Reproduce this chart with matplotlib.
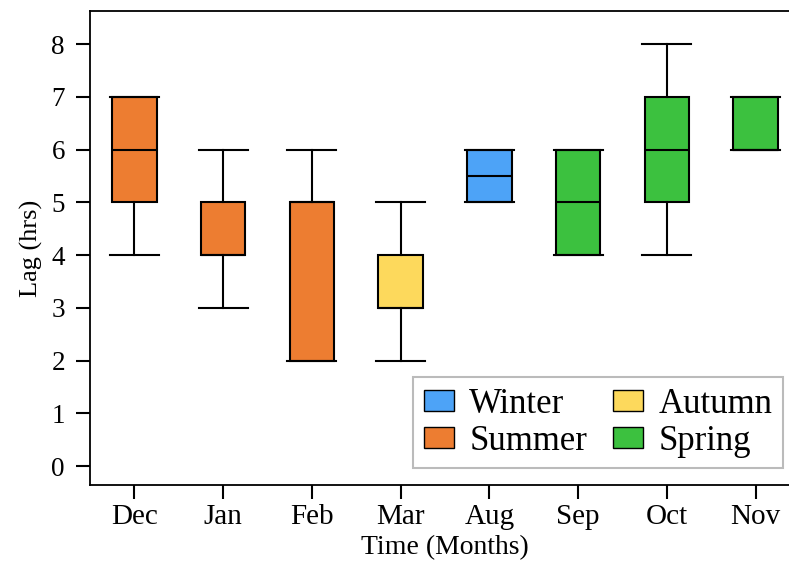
import matplotlib.pyplot as plt
from matplotlib.patches import Patch

plt.rcParams['font.family'] = ['Liberation Serif', 'DejaVu Serif']

# data
months = ['Dec', 'Jan', 'Feb', 'Mar', 'Aug', 'Sep', 'Oct', 'Nov']
whislo = [4, 3, 2, 2, 5, 4, 4, 6]
q1 = [5, 4, 2, 3, 5, 4, 5, 6]
med = [6, 4, 5, 3, 5.5, 5, 6, 6]
q3 = [7, 5, 5, 4, 6, 6, 7, 7]
whishi = [7, 6, 6, 5, 6, 6, 8, 7]
seasons = ['Summer', 'Summer', 'Summer', 'Autumn', 'Winter', 'Spring', 'Spring', 'Spring']

season_colors = {'Winter': '#4da3f7', 'Summer': '#ed7d31',
                 'Autumn': '#fdd95c', 'Spring': '#3cc13f'}

stats = []
for i, m in enumerate(months):
    stats.append({'label': m, 'whislo': whislo[i], 'q1': q1[i], 'med': med[i],
                  'q3': q3[i], 'whishi': whishi[i], 'fliers': []})

fig = plt.figure(figsize=(7.89, 5.64), dpi=100)
ax = fig.add_axes([90 / 789, (564 - 485) / 564, 710 / 789, 474 / 564])

lw = 1.5
bp = ax.bxp(stats, positions=range(1, len(months) + 1), widths=0.5,
            patch_artist=True, showfliers=False,
            boxprops=dict(linewidth=lw, edgecolor='black'),
            medianprops=dict(color='black', linewidth=lw),
            whiskerprops=dict(color='black', linewidth=lw),
            capprops=dict(color='black', linewidth=lw),
            capwidths=0.55)
for box, s in zip(bp['boxes'], seasons):
    box.set_facecolor(season_colors[s])

ax.set_xlim(0.5, 8.5)
ax.set_ylim(-0.36, 8.63)
ax.set_yticks(range(0, 9))
ax.tick_params(axis='both', length=10, width=1.5, direction='out')
ax.tick_params(axis='y', labelsize=19.5, pad=8)
ax.tick_params(axis='x', labelsize=21, pad=4)
for sp in ax.spines.values():
    sp.set_linewidth(1.3)

ax.set_xlabel('Time (Months)', fontsize=20, labelpad=3)
ax.set_ylabel('Lag (hrs)', fontsize=19, labelpad=6)

handles = [Patch(facecolor=season_colors[k], edgecolor='black', label=k)
           for k in ['Winter', 'Summer', 'Autumn', 'Spring']]
leg = ax.legend(handles=handles, ncol=2, fontsize=25, loc='lower right',
                bbox_to_anchor=(0.976, 0.035), fancybox=False,
                handlelength=0.86, handleheight=0.55, columnspacing=0.75,
                handletextpad=0.45, borderpad=0.3, labelspacing=0.12,
                borderaxespad=0)
leg.get_frame().set_edgecolor('#aaaaaa')
leg.get_frame().set_linewidth(1.5)

fig.savefig('out.png', dpi=100)
